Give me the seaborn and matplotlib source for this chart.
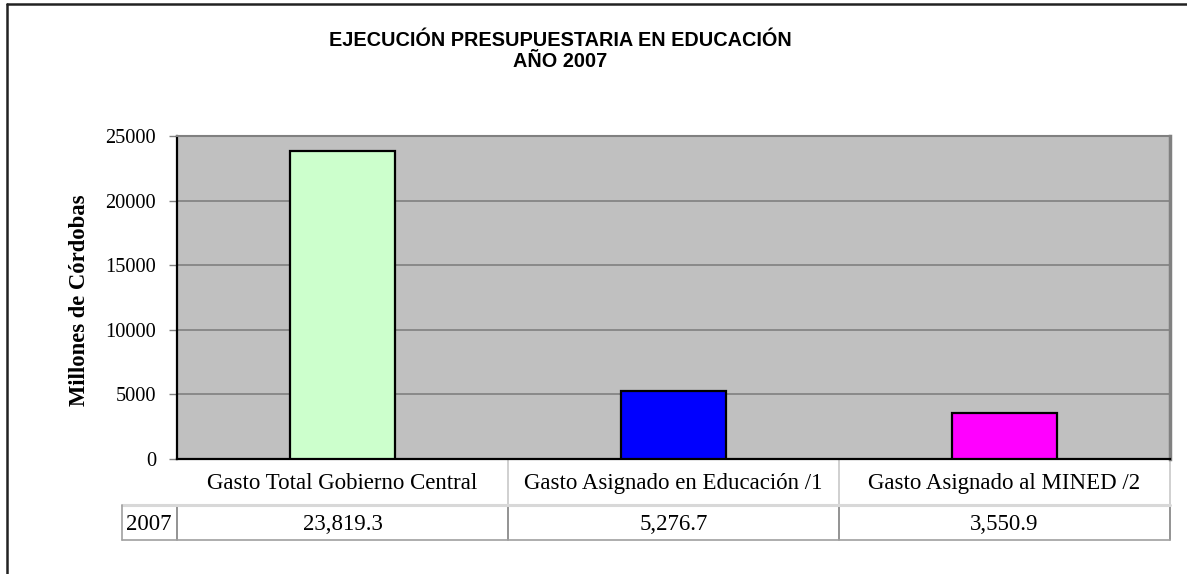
import pandas as pd
import seaborn as sns
import matplotlib.pyplot as plt
from matplotlib.lines import Line2D

# data
categorias = ["Gasto Total Gobierno Central",
              "Gasto Asignado en Educación /1",
              "Gasto Asignado al MINED /2"]
valores = [23819.3, 5276.7, 3550.9]
etiquetas_valor = ["23,819.3", "5,276.7", "3,550.9"]
anio = "2007"
colores = ["#ccffcc", "#0000ff", "#ff00ff"]

df = pd.DataFrame({"categoria": categorias, "valor": valores})

sns.set_style("white")
plt.rcParams["font.family"] = ["Liberation Serif", "DejaVu Serif"]
plt.rcParams["text.color"] = "black"
plt.rcParams["axes.labelcolor"] = "black"
plt.rcParams["ytick.color"] = "black"

fig = plt.figure(figsize=(11.87, 5.74), dpi=100)
ax = fig.add_axes([0.1491, 0.2003, 0.8366, 0.5628])

sns.barplot(data=df, x="categoria", y="valor", hue="categoria",
            palette=colores, saturation=1, legend=False, width=0.315,
            edgecolor="black", linewidth=1.6, ax=ax, zorder=3)

ax.set_facecolor("#c0c0c0")
ax.set_xlim(-0.5, 2.5)
ax.set_ylim(0, 25000)
ax.set_yticks(range(0, 25001, 5000))
ax.yaxis.grid(True, color="#808080", linewidth=1.2, zorder=1)
ax.set_axisbelow(True)
ax.tick_params(axis="y", left=True, length=6, width=1, color="#808080",
               labelcolor="black", labelsize=14.7, pad=9)
ax.tick_params(axis="x", bottom=False, labelbottom=False)
ax.set_xlabel("")
ax.set_ylabel("Millones de Córdobas", fontsize=16.3, fontweight="bold")
ax.yaxis.set_label_coords(-0.088, 0.49)

for side in ["left", "bottom"]:
    ax.spines[side].set_color("black")
    ax.spines[side].set_linewidth(1.6)
ax.spines["top"].set_color("#808080")
ax.spines["top"].set_linewidth(1.5)
ax.spines["right"].set_color("#808080")
ax.spines["right"].set_linewidth(2.5)

# data table under the axis
tr = ax.get_xaxis_transform()
y_head = -0.1424
y_bot = -0.2508
x_left = -0.0554
claro = "#c8c8c8"
oscuro = "#808080"

for i, (cat, lab) in enumerate(zip(categorias, etiquetas_valor)):
    ax.text(i, y_head / 2 - 0.006, cat, transform=tr, ha="center",
            va="center", fontsize=16.5, clip_on=False)
    ax.text(i, (y_head + y_bot) / 2 - 0.006, lab, transform=tr, ha="center",
            va="center", fontsize=16.5, clip_on=False)

for xb in [0.5, 1.5, 2.5]:
    ax.add_line(Line2D([xb, xb], [0, y_head], transform=tr, color=claro,
                       linewidth=1.2, clip_on=False))
for xb in [-0.5, 0.5, 1.5, 2.5]:
    ax.add_line(Line2D([xb, xb], [y_head, y_bot], transform=tr, color=oscuro,
                       linewidth=1.2, clip_on=False))
ax.add_line(Line2D([x_left, 1], [y_head, y_head], transform=ax.transAxes,
                   color="#d8d8d8", linewidth=2.2, clip_on=False))
ax.add_line(Line2D([x_left, 1], [y_bot, y_bot], transform=ax.transAxes,
                   color="#a0a0a0", linewidth=1.2, clip_on=False))
ax.add_line(Line2D([x_left, x_left], [y_head, y_bot], transform=ax.transAxes,
                   color="#a0a0a0", linewidth=1.2, clip_on=False))
ax.text(x_left + 0.004, (y_head + y_bot) / 2 - 0.006, anio,
        transform=ax.transAxes, ha="left", va="center", fontsize=16.5,
        clip_on=False)

# title
fig.text(0.472, 0.930, "EJECUCIÓN PRESUPUESTARIA EN EDUCACIÓN",
         ha="center", va="center", fontsize=14.3, fontweight="bold",
         color="black", family=["Liberation Sans", "DejaVu Sans"])
fig.text(0.472, 0.892, "AÑO 2007", ha="center", va="center",
         fontsize=14.3, fontweight="bold", color="black",
         family=["Liberation Sans", "DejaVu Sans"])

# chart border (only left and top visible)
fig.add_artist(Line2D([0.0055, 0.0055], [0, 0.993], transform=fig.transFigure,
                      color="#222222", linewidth=1.8))
fig.add_artist(Line2D([0.0055, 1], [0.993, 0.993], transform=fig.transFigure,
                      color="#222222", linewidth=1.8))

fig.savefig("out.png", dpi=100)
